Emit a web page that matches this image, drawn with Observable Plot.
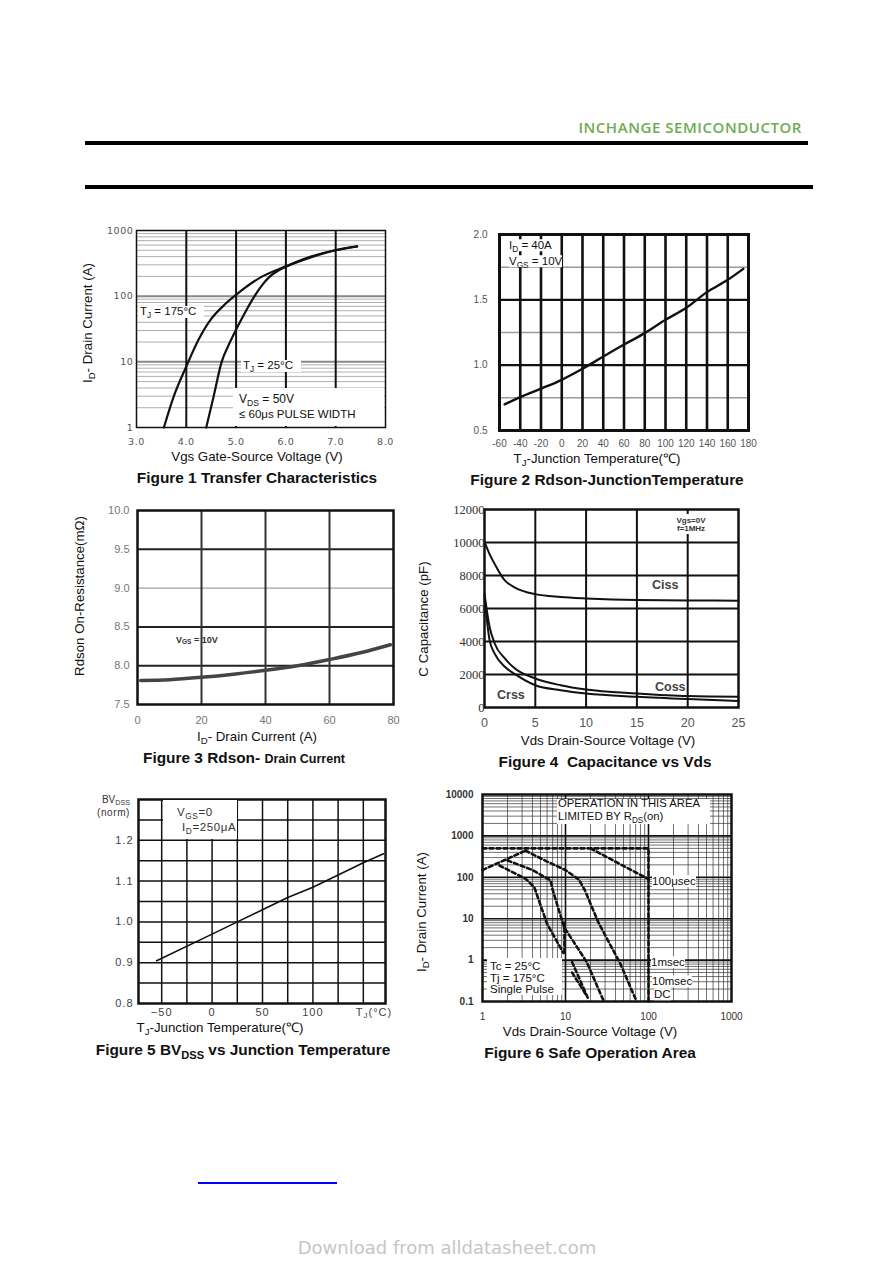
<!DOCTYPE html>
<html><head><meta charset="utf-8">
<script src="https://cdn.jsdelivr.net/npm/d3@7"></script>
<script src="https://cdn.jsdelivr.net/npm/@observablehq/plot@0.6"></script>
<style>
html,body{margin:0;padding:0;background:#fff;}
#page{position:relative;width:892px;height:1261px;overflow:hidden;font-family:"Liberation Sans",Arial,sans-serif;color:#111;}
#page sub{font-size:72%;vertical-align:-0.3em;line-height:0;}
.c{position:absolute;white-space:nowrap;transform:translate(-50%,-50%);line-height:1;}
.l{position:absolute;white-space:nowrap;transform:translateY(-50%);line-height:1;}
.r{position:absolute;white-space:nowrap;transform:translate(-100%,-50%);line-height:1;}
.v{position:absolute;white-space:nowrap;transform:translate(-50%,-50%) rotate(-90deg);line-height:1;}
.box{position:absolute;background:#fff;}
.bar{position:absolute;background:#000;}
</style></head><body><div id="page"></div>
<script>
// ---------- Figure 1: Transfer characteristics ----------
const f1Vgs175 = [3.55, 3.75, 4.0, 4.25, 4.5, 4.75, 5.0, 5.5, 6.0, 6.5, 7.0, 7.43];
const f1Id175  = [1, 3, 8.5, 22, 45, 72, 105, 195, 285, 400, 505, 575];
const f1Vgs25  = [4.40, 4.55, 4.71, 4.85, 5.0, 5.2, 5.37, 5.5, 5.68, 5.85, 6.0, 6.5, 7.0, 7.43];
const f1Id25   = [1, 3, 10, 18, 31, 60, 100, 140, 200, 245, 280, 390, 500, 570];
const f1XTicks = [3, 4, 5, 6, 7, 8];
const f1YTicks = [1, 10, 100, 1000];

// ---------- Figure 2: Rdson vs junction temperature ----------
const f2T = [-55, -40, -20, 0, 20, 40, 60, 80, 100, 120, 140, 160, 175];
const f2R = [0.70, 0.755, 0.82, 0.888, 0.972, 1.066, 1.158, 1.245, 1.347, 1.439, 1.559, 1.653, 1.737];
const f2XTicks = [-60, -40, -20, 0, 20, 40, 60, 80, 100, 120, 140, 160, 180];
const f2YTicks = [0.5, 1.0, 1.5, 2.0];

// ---------- Figure 3: Rdson vs drain current ----------
const f3Id = [1, 10, 20, 30, 40, 50, 60, 70, 79];
const f3R  = [7.81, 7.82, 7.85, 7.89, 7.94, 8.0, 8.08, 8.17, 8.27];
const f3XTicks = [0, 20, 40, 60, 80];
const f3YTicks = [7.5, 8.0, 8.5, 9.0, 9.5, 10.0];

// ---------- Figure 4: Capacitance vs Vds ----------
const f4V    = [0, 0.5, 1, 2, 3, 5, 7.5, 10, 15, 20, 25];
const f4Ciss = [10040, 9300, 8700, 7700, 7270, 6870, 6700, 6610, 6510, 6490, 6470];
const f4Coss = [6900, 4890, 3880, 2970, 2360, 1760, 1350, 1090, 850, 690, 650];
const f4Crss = [6700, 4080, 3270, 2470, 2020, 1350, 1050, 850, 650, 510, 400];
const f4XTicks = [0, 5, 10, 15, 20, 25];
const f4YTicks = [0, 2000, 4000, 6000, 8000, 10000, 12000];

// ---------- Figure 5: BVdss vs junction temperature ----------
const f5T  = [-55, 0, 25, 50, 75, 100, 125, 150, 170];
const f5BV = [0.905, 0.97, 1.0, 1.03, 1.06, 1.085, 1.115, 1.145, 1.167];
const f5XTicks = [-50, 0, 50, 100];
const f5YTicks = [0.8, 0.9, 1.0, 1.1, 1.2];

// ---------- Figure 6: Safe operating area ----------
const soaLimitV = [1, 100, 100];            const soaLimitI = [500, 500, 0.1];
const soa100usV = [20, 100];                const soa100usI = [500, 90];
const soaRdsV   = [1, 3.3];                 const soaRdsI   = [150, 440];
const soaAV = [3.3, 6, 10, 14.5, 17, 25, 46, 72];   const soaAI = [440, 240, 150, 88, 50, 8, 0.8, 0.1];
const soaBV = [2, 4, 6.6, 7, 9.6, 18, 29];          const soaBI = [255, 150, 84, 50, 6.3, 0.9, 0.1];
const soaCV = [1.6, 3.3, 4.2, 6, 9.4];              const soaCI = [193, 92, 58, 7.5, 1.5];
const soaCRiseV = [9.7, 9.7];               const soaCRiseI = [1.5, 8];
const soaDV = [12, 19];                     const soaDI = [0.9, 0.11];
const soaEV = [12, 17.5];                   const soaEI = [0.5, 0.15];
const f6XTicks = [1, 10, 100, 1000];
const f6YTicks = [0.1, 1, 10, 100, 1000, 10000];

// ---------- helpers ----------
const page = document.getElementById('page');
function txt(cls, x, y, html, extra = '') {
  const d = document.createElement('div'); d.className = cls;
  d.style.cssText += `left:${x}px;top:${y}px;${extra}`; d.innerHTML = html; page.appendChild(d); return d;
}
function box(x, y, w, h, cls = 'box') {
  const d = document.createElement('div'); d.className = cls;
  d.style.cssText += `left:${x}px;top:${y}px;width:${w}px;height:${h}px;`; page.appendChild(d); return d;
}
function put(svg, left, top) {
  const w = document.createElement('div');
  w.style.cssText = `position:absolute;left:${left}px;top:${top}px;`;
  w.appendChild(svg); page.appendChild(w);
}
const pts = (xs, ys) => xs.map((x, i) => ({x, y: ys[i]}));
function logGrid(e0, e1) { const o = []; for (let e = e0; e < e1; e++) for (let m = 2; m <= 9; m++) o.push(+(m * Math.pow(10, e)).toPrecision(3)); return o; }
const base = {fontFamily: '"Liberation Sans", Arial, sans-serif', fontSize: '10px', background: 'transparent', overflow: 'visible'};
const TTL = 'font-size:15.4px;font-weight:bold;';
const AXL = 'font-size:13.3px;';

// ---------- header / footer ----------
txt('r', 802, 127, 'INCHANGE SEMICONDUCTOR', 'font-family:"Open Sans",sans-serif;font-weight:600;font-size:15px;letter-spacing:0.55px;color:#6fab4f;');
box(85, 141, 723, 4, 'bar');
box(85, 185, 728, 4, 'bar');
box(198, 1182, 139, 2, 'bar').style.background = '#0000ff';
txt('c', 447, 1248, 'Download from alldatasheet.com', 'font-family:"DejaVu Sans",sans-serif;font-size:18px;color:#c6c6c6;');

// ---------- Figure 1 ----------
put(Plot.plot({
  width: 314, height: 237, marginLeft: 50, marginRight: 15, marginTop: 15, marginBottom: 25,
  x: {domain: [3, 8], label: null}, y: {type: 'log', domain: [1, 1000], label: null},
  style: {...base, fontFamily: '"DejaVu Sans", sans-serif', fontSize: '9.5px', color: '#555', letterSpacing: '0.6px'},
  marks: [
    Plot.ruleY(logGrid(0, 3), {stroke: '#9a9a9a', strokeWidth: 0.8}),
    Plot.ruleY([10, 100], {stroke: '#888', strokeWidth: 2}),
    Plot.ruleX([4, 5, 6, 7], {stroke: '#111', strokeWidth: 2}),
    Plot.frame({stroke: '#111', strokeWidth: 1.5}),
    Plot.line(pts(f1Vgs175, f1Id175), {x: 'x', y: 'y', stroke: '#111', strokeWidth: 2.2, curve: 'monotone-x'}),
    Plot.line(pts(f1Vgs25, f1Id25), {x: 'x', y: 'y', stroke: '#111', strokeWidth: 2.2, curve: 'monotone-x'}),
    Plot.axisY({ticks: f1YTicks, tickSize: 0, tickPadding: 3, tickFormat: d => String(d), label: null}),
    Plot.axisX({ticks: f1XTicks, tickSize: 0, tickPadding: 11, tickFormat: d => d.toFixed(1), label: null})
  ]
}), 86, 215);
box(138, 306, 66, 12); txt('l', 140, 312, 'T<sub>J</sub> = 175°C', 'font-size:11.5px;');
box(241, 360, 60, 12); txt('l', 243, 366, 'T<sub>J</sub> = 25°C', 'font-size:11.5px;');
box(233, 388, 151, 38);
txt('l', 239, 399, 'V<sub>DS</sub> = 50V', 'font-size:12px;');
txt('l', 239, 415, '≤ 60μs PULSE WIDTH', 'font-size:11.5px;');
txt('c', 257, 457, 'Vgs Gate-Source Voltage (V)', AXL);
txt('c', 257, 478, 'Figure 1 Transfer Characteristics', TTL);
txt('v', 88, 323, 'I<sub>D</sub>- Drain Current (A)', AXL);

// ---------- Figure 2 ----------
put(Plot.plot({
  width: 304, height: 231, marginLeft: 40, marginRight: 15, marginTop: 10, marginBottom: 25,
  x: {domain: [-60, 180], label: null}, y: {domain: [0.5, 2.0], label: null},
  style: {...base, color: '#555'},
  marks: [
    Plot.ruleY([0.75, 1.25, 1.75], {stroke: '#9a9a9a', strokeWidth: 1.5}),
    Plot.ruleY([1.0, 1.5], {stroke: '#111', strokeWidth: 2.2}),
    Plot.ruleX(f2XTicks.slice(1, -1), {stroke: '#111', strokeWidth: 2.6}),
    Plot.frame({stroke: '#111', strokeWidth: 3}),
    Plot.line(pts(f2T, f2R), {x: 'x', y: 'y', stroke: '#111', strokeWidth: 2.4, curve: 'monotone-x'}),
    Plot.axisY({ticks: f2YTicks, tickSize: 0, tickPadding: 12, tickFormat: d => d.toFixed(1), label: null}),
    Plot.axisX({ticks: f2XTicks, tickSize: 0, tickPadding: 9, tickFormat: d => String(d), label: null})
  ]
}), 459, 224);
txt('l', 509, 246, '<span style="background:#fff">I<sub>D</sub> = 40A</span>', 'font-size:11.5px;');
txt('l', 509, 262, '<span style="background:#fff">V<sub>GS</sub> = 10V</span>', 'font-size:11.5px;');
txt('c', 597, 459, 'T<sub>J</sub>-Junction Temperature(℃)', AXL);
txt('c', 607, 480, 'Figure 2 Rdson-JunctionTemperature', TTL);

// ---------- Figure 3 ----------
put(Plot.plot({
  width: 321, height: 229, marginLeft: 50, marginRight: 15, marginTop: 10, marginBottom: 25,
  x: {domain: [0, 80], label: null}, y: {domain: [7.5, 10.0], label: null},
  style: {...base, fontSize: '11px', color: '#777'},
  marks: [
    Plot.ruleY([9.0], {stroke: '#888', strokeWidth: 1}),
    Plot.ruleY([8.0, 8.5, 9.5], {stroke: '#222', strokeWidth: 2}),
    Plot.ruleX([20, 40, 60], {stroke: '#333', strokeWidth: 2}),
    Plot.frame({stroke: '#111', strokeWidth: 2.5}),
    Plot.line(pts(f3Id, f3R), {x: 'x', y: 'y', stroke: '#444', strokeWidth: 3.5, curve: 'monotone-x'}),
    Plot.axisY({ticks: f3YTicks, tickSize: 0, tickPadding: 8, tickFormat: d => d.toFixed(1), label: null}),
    Plot.axisX({ticks: f3XTicks, tickSize: 0, tickPadding: 12, tickFormat: d => String(d), label: null})
  ]
}), 87, 500);
txt('l', 176, 640, 'V<sub>GS</sub> = 10V', 'font-size:9px;font-weight:bold;color:#333;');
txt('c', 257, 737, 'I<sub>D</sub>- Drain Current (A)', AXL);
txt('c', 244, 758, 'Figure 3 Rdson- <span style="font-size:12.5px">Drain Current</span>', TTL);
txt('v', 80, 596, 'Rdson On-Resistance(mΩ)', AXL);

// ---------- Figure 4 ----------
put(Plot.plot({
  width: 329, height: 233, marginLeft: 60, marginRight: 15, marginTop: 10, marginBottom: 25,
  x: {domain: [0, 25], label: null}, y: {domain: [0, 12000], label: null},
  style: {...base, fontFamily: '"Liberation Serif", serif', fontSize: '12.5px', color: '#333'},
  marks: [
    Plot.ruleY([2000, 4000, 6000, 8000, 10000], {stroke: '#111', strokeWidth: 2}),
    Plot.ruleX([5, 10, 15, 20], {stroke: '#111', strokeWidth: 2}),
    Plot.frame({stroke: '#111', strokeWidth: 2.5}),
    Plot.line(pts(f4V, f4Ciss), {x: 'x', y: 'y', stroke: '#111', strokeWidth: 2, curve: 'monotone-x'}),
    Plot.line(pts(f4V, f4Coss), {x: 'x', y: 'y', stroke: '#111', strokeWidth: 2, curve: 'monotone-x'}),
    Plot.line(pts(f4V, f4Crss), {x: 'x', y: 'y', stroke: '#111', strokeWidth: 2, curve: 'monotone-x'}),
    Plot.axisY({ticks: f4YTicks, tickSize: 0, tickPadding: 0, tickFormat: d => String(d), label: null}),
    Plot.axisX({ticks: f4XTicks, tickSize: 0, tickPadding: 11, tickFormat: d => String(d), label: null,
      fontFamily: '"Liberation Sans", Arial, sans-serif', fill: '#555'})
  ]
}), 424, 499);
box(672, 514, 38, 20);
txt('c', 691, 521, 'Vgs=0V', 'font-size:8px;font-weight:bold;color:#333;');
txt('c', 691, 529, 'f=1MHz', 'font-size:8px;font-weight:bold;color:#333;');
txt('l', 652, 585, 'Ciss', 'font-size:12.5px;font-weight:bold;color:#444;');
txt('l', 655, 687, 'Coss', 'font-size:12.5px;font-weight:bold;color:#444;');
txt('l', 497, 695, 'Crss', 'font-size:12.5px;font-weight:bold;color:#444;');
txt('c', 608, 741, 'Vds Drain-Source Voltage (V)', AXL);
txt('c', 605, 762, 'Figure 4&nbsp; Capacitance vs Vds', TTL);
txt('v', 424, 619, 'C Capacitance (pF)', AXL);

// ---------- Figure 5 ----------
put(Plot.plot({
  width: 312, height: 239, marginLeft: 50, marginRight: 15, marginTop: 10, marginBottom: 25,
  x: {domain: [-73, 172], label: null}, y: {domain: [0.8, 1.3], label: null},
  style: {...base, fontSize: '11px', color: '#444', letterSpacing: '1px'},
  marks: [
    Plot.ruleY([0.85, 0.9, 0.95, 1.0, 1.05, 1.1, 1.15, 1.2, 1.25], {stroke: '#111', strokeWidth: 1.5}),
    Plot.ruleX([-50, -25, 0, 25, 50, 75, 100, 125, 150], {stroke: '#111', strokeWidth: 1.5}),
    Plot.frame({stroke: '#111', strokeWidth: 2.5}),
    Plot.line(pts(f5T, f5BV), {x: 'x', y: 'y', stroke: '#111', strokeWidth: 1.6}),
    Plot.axisY({ticks: f5YTicks, tickSize: 0, tickPadding: 5, tickFormat: d => d.toFixed(1), label: null}),
    Plot.axisX({ticks: f5XTicks, tickSize: 0, tickPadding: 5, tickFormat: d => d < 0 ? '−' + Math.abs(d) : String(d), label: null})
  ]
}), 88, 789);
box(163, 800, 74, 39);
txt('l', 177, 813, 'V<sub>GS</sub>=0', 'font-size:11.5px;letter-spacing:0.6px;color:#333;');
txt('l', 182, 828, 'I<sub>D</sub>=250μA', 'font-size:11.5px;letter-spacing:0.6px;color:#333;');
txt('r', 130, 800, 'BV<sub>DSS</sub>', 'font-size:10px;color:#333;');
txt('r', 130, 813, '(norm)', 'font-size:10px;color:#333;letter-spacing:0.6px;');
txt('c', 374, 1012, 'T<sub>J</sub>(°C)', 'font-size:11px;color:#444;letter-spacing:1px;');
txt('c', 220, 1028, 'T<sub>J</sub>-Junction Temperature(℃)', AXL);
txt('c', 243, 1050, 'Figure 5 BV<sub>DSS</sub> vs Junction Temperature', TTL);

// ---------- Figure 6 ----------
const dash = {x: 'x', y: 'y', stroke: '#111', strokeWidth: 2.6, strokeDasharray: '4,3'};
put(Plot.plot({
  width: 324, height: 242, marginLeft: 60, marginRight: 15, marginTop: 10, marginBottom: 25,
  x: {type: 'log', domain: [1, 1000], label: null}, y: {type: 'log', domain: [0.1, 10000], label: null},
  style: {...base, fontSize: '10px', color: '#333'},
  marks: [
    Plot.ruleX(logGrid(0, 3), {stroke: '#333', strokeWidth: 0.7}),
    Plot.ruleY(logGrid(-1, 4), {stroke: '#333', strokeWidth: 0.7}),
    Plot.ruleX([10, 100], {stroke: '#111', strokeWidth: 1.6}),
    Plot.ruleY([1, 10, 100, 1000], {stroke: '#111', strokeWidth: 1.6}),
    Plot.frame({stroke: '#111', strokeWidth: 2.5}),
    Plot.line(pts(soaLimitV, soaLimitI), dash),
    Plot.line(pts(soa100usV, soa100usI), dash),
    Plot.line(pts(soaRdsV, soaRdsI), dash),
    Plot.line(pts(soaAV, soaAI), dash),
    Plot.line(pts(soaBV, soaBI), dash),
    Plot.line(pts(soaCV, soaCI), dash),
    Plot.line(pts(soaCRiseV, soaCRiseI), dash),
    Plot.line(pts(soaDV, soaDI), dash),
    Plot.line(pts(soaEV, soaEI), dash),
    Plot.axisY({ticks: f6YTicks, tickSize: 0, tickPadding: 9, tickFormat: d => d < 1 ? '0.1' : String(d), label: null, fontWeight: 'bold'}),
    Plot.axisX({ticks: f6XTicks, tickSize: 0, tickPadding: 11, tickFormat: d => String(d), label: null})
  ]
}), 422, 784);
box(557, 799, 153, 25);
txt('l', 558, 804, 'OPERATION IN THIS AREA', 'font-size:11.3px;');
txt('l', 558, 817, 'LIMITED BY R<sub>DS</sub>(on)', 'font-size:11.3px;');
box(487, 958, 75, 37);
txt('l', 490, 967, 'Tc = 25°C', 'font-size:11.5px;');
txt('l', 490, 979, 'Tj = 175°C', 'font-size:11.5px;');
txt('l', 490, 990, 'Single Pulse', 'font-size:11.5px;');
txt('l', 652, 882, '<span style="background:#fff">100μsec</span>', 'font-size:11.5px;');
txt('l', 651, 963, '<span style="background:#fff">1msec</span>', 'font-size:11.5px;');
txt('l', 652, 982, '<span style="background:#fff">10msec</span>', 'font-size:11.5px;');
txt('l', 654, 995, '<span style="background:#fff">DC</span>', 'font-size:11.5px;');
txt('c', 590, 1032, 'Vds Drain-Source Voltage (V)', AXL);
txt('c', 590, 1053, 'Figure 6 Safe Operation Area', TTL);
txt('v', 422, 912, 'I<sub>D</sub>- Drain Current (A)', AXL);
</script></body></html>
